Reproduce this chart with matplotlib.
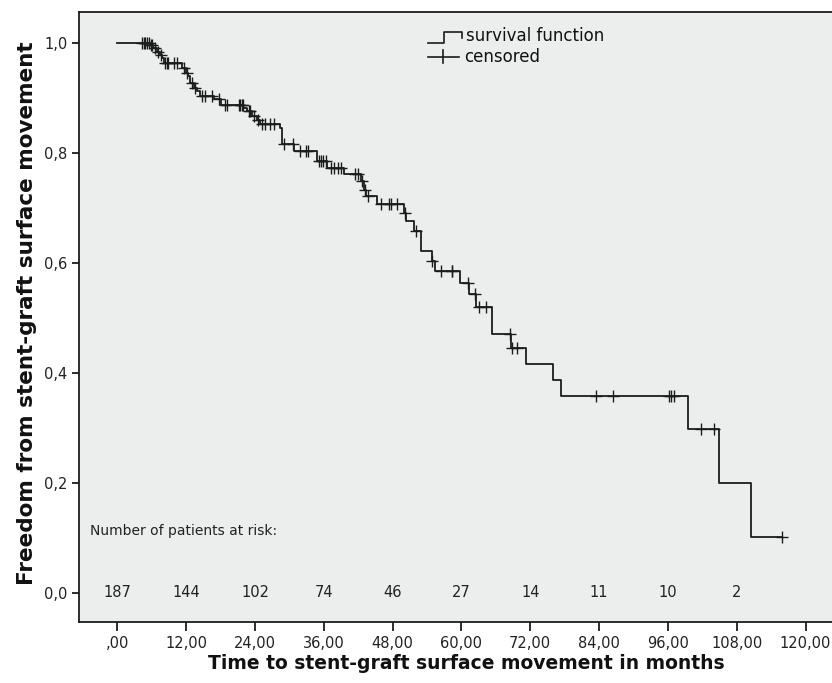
import numpy as np
import matplotlib
matplotlib.use("Agg")
import matplotlib.pyplot as plt

# ---- data ----
event_times = [5.7, 6.3, 6.9, 7.4, 7.8, 8.1, 11.3, 11.9, 12.4, 12.7, 13.3, 13.9, 14.5,
               16.8, 18.0, 22.0, 22.6, 23.5, 24.4, 24.9, 28.4, 28.7, 30.8, 34.8, 36.6,
               39.5, 42.4, 43.0, 43.4, 45.3, 49.9, 50.4, 51.8, 53.0, 54.8, 55.4, 59.8,
               61.3, 62.6, 65.4, 68.6, 71.2, 75.9, 77.4, 99.5, 104.9, 110.4]
survival = [0.996, 0.990, 0.984, 0.978, 0.972, 0.963, 0.954, 0.945, 0.939, 0.927, 0.918,
            0.912, 0.904, 0.897, 0.886, 0.881, 0.875, 0.866, 0.860, 0.852, 0.845, 0.815,
            0.804, 0.785, 0.773, 0.762, 0.748, 0.733, 0.721, 0.706, 0.691, 0.675, 0.658,
            0.621, 0.603, 0.585, 0.564, 0.543, 0.520, 0.471, 0.445, 0.416, 0.386, 0.357,
            0.298, 0.200, 0.102]
censor_times = [4.3, 4.6, 4.9, 5.2, 5.5, 5.9, 6.1, 6.6, 7.1, 7.6, 8.4, 8.65, 8.9, 9.8,
                10.4, 11.6, 12.2, 13.0, 13.6, 14.8, 15.3, 16.5, 17.7, 18.8, 19.1, 21.2,
                21.4, 21.7, 21.9, 22.9, 23.2, 23.8, 24.6, 25.2, 25.8, 26.7, 27.3, 29.1,
                30.6, 31.9, 32.9, 33.2, 35.1, 35.5, 35.9, 36.3, 37.2, 37.8, 38.4, 39.0,
                41.5, 41.9, 42.7, 43.2, 43.7, 46.0, 47.4, 47.7, 48.8, 50.2, 52.0, 54.9,
                56.5, 58.3, 58.4, 61.2, 62.3, 63.1, 64.2, 68.4, 68.8, 69.7, 83.4, 86.5,
                96.2, 96.6, 97.1, 101.7, 104.0, 115.8]
risk_times = [0, 12, 24, 36, 48, 60, 72, 84, 96, 108]
risk_counts = [187, 144, 102, 74, 46, 27, 14, 11, 10, 2]
xticks = [0, 12, 24, 36, 48, 60, 72, 84, 96, 108, 120]
xtick_labels = [",00", "12,00", "24,00", "36,00", "48,00", "60,00", "72,00",
                "84,00", "96,00", "108,00", "120,00"]
yticks = [0.0, 0.2, 0.4, 0.6, 0.8, 1.0]
ytick_labels = ["0,0", "0,2", "0,4", "0,6", "0,8", "1,0"]

plt.rcParams['font.family'] = ['DejaVu Sans']
LC = '#1c1c1c'

fig = plt.figure(figsize=(8.32, 6.83), dpi=100)
ax = fig.add_axes([0.0946, 0.0897, 0.9054, 0.8927])
ax.set_facecolor('#ECEDED')

# step curve
xs = [0.0] + event_times + [censor_times[-1]]
ys = [1.0] + survival + [survival[-1]]
ax.step(xs, ys, where='post', color=LC, lw=1.3, zorder=3)

# censored marks
et = np.array(event_times)
sv = np.array([1.0] + survival)
idx = np.searchsorted(et, np.array(censor_times), side='right')
cy = sv[idx]
ax.plot(censor_times, cy, linestyle='none', marker='+', markersize=8,
        markeredgewidth=1.0, color=LC, zorder=4)

ax.set_xlim(-6.73, 124.6)
ax.set_ylim(-0.0527, 1.0558)
ax.set_xticks(xticks)
ax.set_xticklabels(xtick_labels)
ax.set_yticks(yticks)
ax.set_yticklabels(ytick_labels)
ax.tick_params(axis='x', direction='out', length=6.5, width=1.3, color=LC,
               labelsize=10.5, labelcolor='#222222', pad=4)
ax.tick_params(axis='y', direction='out', length=5, width=1.3, color=LC,
               labelsize=10.5, labelcolor='#222222', pad=3)
for s in ['left', 'bottom', 'top']:
    ax.spines[s].set_linewidth(1.3)
    ax.spines[s].set_color(LC)
ax.spines['right'].set_visible(False)

ax.set_xlabel("Time to stent-graft surface movement in months", fontsize=13.5,
              fontweight='bold', color='#111111')
ax.xaxis.set_label_coords(0.514, -0.0677)
ax.xaxis.label.set_va('center')
ax.set_ylabel("Freedom from stent-graft surface movement", fontsize=15.5,
              fontweight='bold', color='#111111')
ax.yaxis.set_label_coords(-0.0686, 0.506)
ax.yaxis.label.set_va('center')

# numbers at risk
ax.text(-4.7, 0.113, "Number of patients at risk:", fontsize=10, ha='left',
        va='center', color='#222222')
for t, n in zip(risk_times, risk_counts):
    ax.text(t, 0.0, str(n), fontsize=10.5, ha='center', va='center', color='#222222')

# legend (manual)
tr = ax.transAxes
ax.plot([0.4637, 0.4843, 0.4843, 0.5088, 0.5088], [0.950, 0.950, 0.968, 0.968, 0.958],
        transform=tr, color=LC, lw=1.2, clip_on=False)
ax.text(0.514, 0.961, "survival function", transform=tr, fontsize=12, ha='left',
        va='center', color='#111111')
ax.plot([0.4637, 0.5048], [0.927, 0.927], transform=tr, color=LC, lw=1.2)
ax.plot([0.4837, 0.4837], [0.917, 0.937], transform=tr, color=LC, lw=1.2)
ax.text(0.511, 0.926, "censored", transform=tr, fontsize=12, ha='left',
        va='center', color='#111111')

fig.savefig("out.png", dpi=100)
